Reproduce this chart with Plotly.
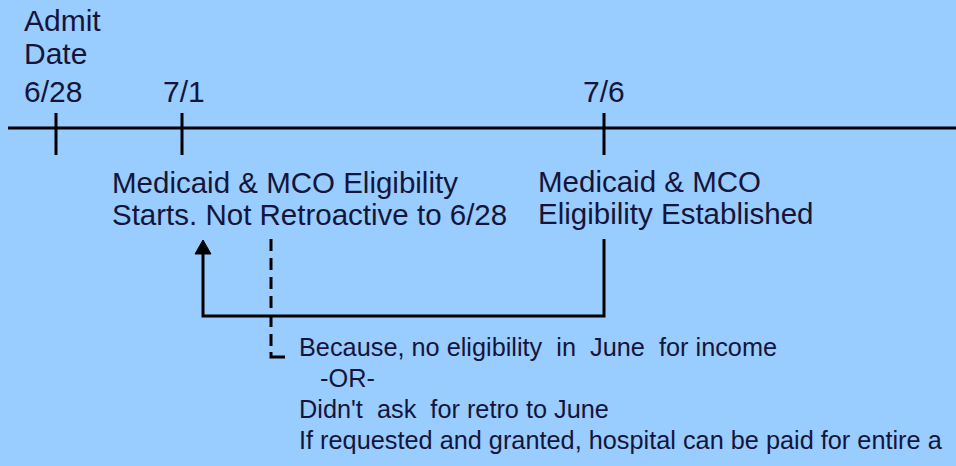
import plotly.graph_objects as go

# ---- data ----
event_labels = ["6/28", "7/1", "7/6"]
event_pos = [56, 182, 604]            # position along the timeline
admit_label = ["Admit", "Date"]
start_text = ["Medicaid & MCO Eligibility", "Starts. Not Retroactive to 6/28"]
established_text = ["Medicaid & MCO", "Eligibility Established"]
reason_text = [
    "Because, no eligibility  in  June  for income",
    "   -OR-",
    "Didn't  ask  for retro to June",
    "If requested and granted, hospital can be paid for entire a",
]

BG = "#99CCFF"
INK = "#15153a"
FONT = "Liberation Sans, Arial, sans-serif"

W, H = 956, 466
fig = go.Figure()

# timeline axis line
fig.add_shape(type="line", x0=8, x1=W, y0=128, y1=128,
              line=dict(color="black", width=3))
# ticks
for p in event_pos:
    fig.add_shape(type="line", x0=p, x1=p, y0=113, y1=155,
                  line=dict(color="black", width=3))

# solid connector from 7/6 back to 7/1 (elbow)
x_est = event_pos[2]
x_start = event_pos[1] + 21
fig.add_trace(go.Scatter(
    x=[x_est, x_est, x_start, x_start],
    y=[239, 316, 316, 252],
    mode="lines", line=dict(color="black", width=3),
    hoverinfo="skip", showlegend=False))
# arrow head
fig.add_trace(go.Scatter(
    x=[x_start - 8, x_start, x_start + 8, x_start - 8],
    y=[254, 240, 254, 254],
    mode="lines", fill="toself", fillcolor="black",
    line=dict(color="black", width=1),
    hoverinfo="skip", showlegend=False))

# dashed connector to the reasons
x_d = 271
fig.add_trace(go.Scatter(
    x=[x_d, x_d], y=[239, 352],
    mode="lines", line=dict(color="black", width=3, dash="12px,7px"),
    hoverinfo="skip", showlegend=False))
fig.add_trace(go.Scatter(
    x=[x_d, x_d, x_d + 14], y=[352, 357, 357],
    mode="lines", line=dict(color="black", width=3),
    hoverinfo="skip", showlegend=False))

ann = []
def txt(x, y, s, size):
    ann.append(dict(x=x, y=y, xref="x", yref="y", text=s, showarrow=False,
                    xanchor="left", yanchor="middle",
                    font=dict(family=FONT, size=size, color=INK)))

# top labels
txt(22, 20, admit_label[0], 30)
txt(22, 53, admit_label[1], 30)
label_x = [22, 161, 581]
for lx, lab in zip(label_x, event_labels):
    txt(lx, 91, lab, 30)

# middle labels
for i, s in enumerate(start_text):
    txt(110, 182 + 32 * i, s, 29.5)
for i, s in enumerate(established_text):
    txt(536, 181 + 32 * i, s, 29.5)

# reasons
for i, s in enumerate(reason_text):
    txt(297, 347 + 31 * i, s, 25.3)

fig.update_layout(
    width=W, height=H,
    margin=dict(l=0, r=0, t=0, b=0),
    paper_bgcolor=BG, plot_bgcolor=BG,
    xaxis=dict(range=[0, W], visible=False, fixedrange=True),
    yaxis=dict(range=[H, 0], visible=False, fixedrange=True),
    annotations=ann,
    showlegend=False,
)

fig.write_html("out.html", config={"displayModeBar": False},
               post_script="document.body.style.margin='0';")
